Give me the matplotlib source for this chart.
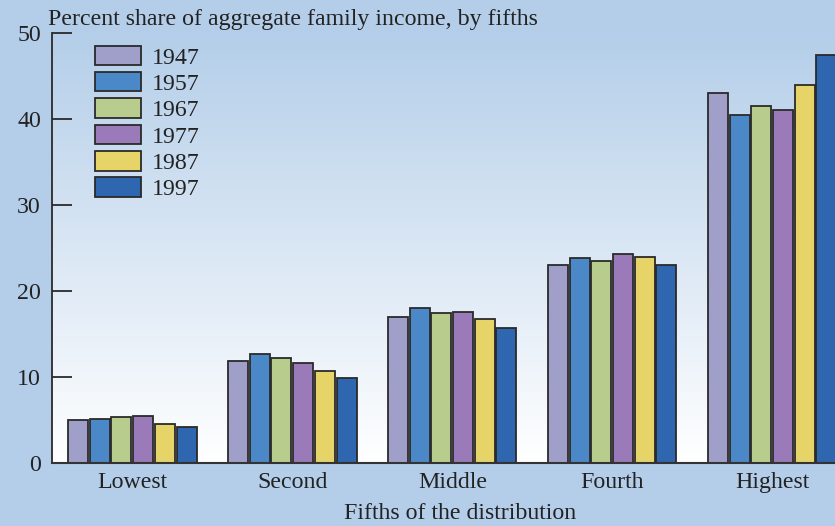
import numpy as np
import matplotlib
matplotlib.use("Agg")
import matplotlib.pyplot as plt
from matplotlib.colors import LinearSegmentedColormap

categories = ["Lowest", "Second", "Middle", "Fourth", "Highest"]
years = ["1947", "1957", "1967", "1977", "1987", "1997"]
v1947 = [5.0, 11.9, 17.0, 23.1, 43.0]
v1957 = [5.1, 12.7, 18.1, 23.8, 40.5]
v1967 = [5.4, 12.2, 17.5, 23.5, 41.5]
v1977 = [5.5, 11.7, 17.6, 24.3, 41.0]
v1987 = [4.6, 10.7, 16.8, 24.0, 43.9]
v1997 = [4.2, 9.9, 15.7, 23.0, 47.4]
series = [v1947, v1957, v1967, v1977, v1987, v1997]
colors = ["#a09fca", "#4a88c8", "#b8cc8e", "#9a7ab8", "#e6d468", "#2e66b0"]
yticks = [0, 10, 20, 30, 40, 50]

FS = 17.2
plt.rcParams['font.family'] = ['Liberation Serif', 'DejaVu Serif']
plt.rcParams['font.size'] = FS

bg = "#b4cee9"
fig = plt.figure(figsize=(8.35, 5.26), dpi=100, facecolor=bg)
ax = fig.add_axes([52/835, 1-463.3/526, 1-52/835, (463.3-33)/526])
ax.set_facecolor("none")

xlim = (-0.502, 4.392)
ylim = (0, 50)

cmap = LinearSegmentedColormap.from_list("g", ["#ffffff", bg])
grad = np.linspace(0, 1, 256).reshape(-1, 1)
ax.imshow(grad, cmap=cmap, aspect="auto", extent=[xlim[0], xlim[1], ylim[0], ylim[1]],
          zorder=0, origin="lower")
ax.set_xlim(*xlim)
ax.set_ylim(*ylim)

x = np.arange(len(categories))
slot = 0.1355
width = 0.125
for j, (vals, c, yr) in enumerate(zip(series, colors, years)):
    ax.bar(x + (j - 2.5) * slot, vals, width=width, color=c, edgecolor="#2a2a2a",
           linewidth=1.3, label=yr, zorder=2, clip_on=True)

for s in ["top", "right"]:
    ax.spines[s].set_visible(False)
ax.spines["left"].set_color("#2a2a2a")
ax.spines["left"].set_linewidth(1.3)
ax.spines["bottom"].set_color("#333333")
ax.spines["bottom"].set_linewidth(1.5)
ax.spines["bottom"].set_zorder(3)

ax.set_yticks(yticks)
ax.tick_params(axis="y", direction="in", length=14.5, width=1.3, color="#2a2a2a",
               pad=8, labelsize=FS, labelcolor="#222222")
ax.set_xticks(x)
ax.set_xticklabels(categories)
ax.tick_params(axis="x", length=0, pad=6, labelsize=FS, labelcolor="#222222")

ax.set_xlabel("Fifths of the distribution", fontsize=FS, color="#222222")
ax.xaxis.set_label_coords((460-52)/783, -0.093)

fig.text(48/835, 1-20/526, "Percent share of aggregate family income, by fifths",
         fontsize=FS, color="#222222", va="center", ha="left")

leg = ax.legend(loc="upper left", bbox_to_anchor=(0.043, 0.993), frameon=False,
                handlelength=1.9, handleheight=0.88, labelspacing=0.14,
                handletextpad=0.45, borderaxespad=0, fontsize=FS)
for t in leg.get_texts():
    t.set_color("#222222")

fig.savefig("out.png", dpi=100, facecolor=bg)
